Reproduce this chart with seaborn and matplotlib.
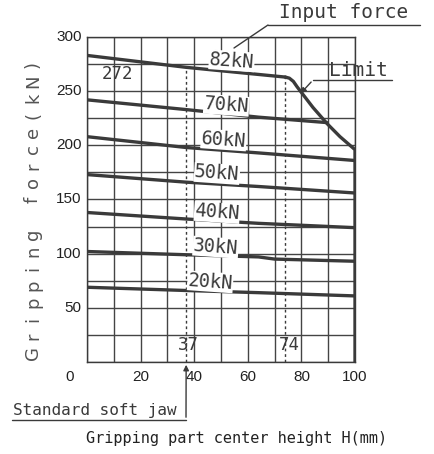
import pandas as pd
import seaborn as sns
import matplotlib.pyplot as plt

# input force curves (H in mm, gripping force in kN)
h_82 = [0, 37, 74]
f_82 = [283, 272, 263]
h_70 = [0, 37, 64, 89.5]
f_70 = [242, 233, 226, 221]
h_60 = [0, 37, 64, 100]
f_60 = [208, 198, 193, 186]
h_50 = [0, 37, 64, 100]
f_50 = [173, 166, 162, 156]
h_40 = [0, 37, 64, 100]
f_40 = [138, 132, 128, 124]
h_30 = [0, 37, 64, 70, 100]
f_30 = [102, 99, 97, 95, 93]
h_20 = [0, 37, 64, 100]
f_20 = [69, 66, 64, 61]
h_limit = [74, 75.5, 77, 78.4, 84.3, 89.6, 94.4, 100, 100]
f_limit = [263, 262, 259, 254, 235, 220, 208, 196, 0]

series_names = ['82kN', '70kN', '60kN', '50kN', '40kN', '30kN', '20kN', 'Limit']
label_x = [54, 52, 51, 48.5, 48.5, 48, 46]
label_y = [278, 237, 205, 174, 138, 106, 74]
x_ticks = [20, 40, 60, 80, 100]
y_ticks = [50, 100, 150, 200, 250, 300]
y_title = 'Gripping force(kN)'

ink = '#3a3a3a'


def main():
    rows = []
    pairs = [(h_82, f_82), (h_70, f_70), (h_60, f_60), (h_50, f_50),
             (h_40, f_40), (h_30, f_30), (h_20, f_20), (h_limit, f_limit)]
    for name, (hs, fs) in zip(series_names, pairs):
        for h, f in zip(hs, fs):
            rows.append({'H': h, 'F': f, 'curve': name})
    df = pd.DataFrame(rows)

    sns.set_style('white')
    fig = plt.figure(figsize=(4.34, 4.54), dpi=100)
    ax = fig.add_axes([87 / 434, 1 - 362 / 454, 268 / 434, 325 / 454])

    sns.lineplot(data=df, x='H', y='F', hue='curve', units='curve',
                 estimator=None, sort=False, ax=ax, legend=False,
                 palette=[ink] * len(series_names), linewidth=2.4)
    ax.set_xlabel('')
    ax.set_ylabel('')

    ax.set_xlim(0, 100)
    ax.set_ylim(0, 300)
    ax.set_xticks(range(0, 101, 10))
    ax.set_yticks(range(0, 301, 25))
    ax.grid(True, color='#444444', linewidth=1.0)
    ax.set_axisbelow(True)
    ax.tick_params(length=0, labelleft=False, labelbottom=False)
    for s in ax.spines.values():
        s.set_color(ink)
        s.set_linewidth(1.0)

    # tick labels as text so the odd gridlines stay unlabelled
    num = dict(fontsize=11, color='#222222', family='Liberation Sans')
    for v in y_ticks:
        ax.text(-2, v, str(v), ha='right', va='center', **num)
    for v in x_ticks:
        ax.text(v, -14, str(v), ha='center', va='center', **num)
    ax.text(-6.5, -14, '0', ha='center', va='center', **num)

    # standard jaw and 74 mm markers
    ax.vlines([37, 74], 0, [272, 263], color=ink, linestyle=(0, (2, 2)),
              linewidth=1.0)
    mono = 'DejaVu Sans Mono'
    ax.text(11.5, 266, '272', ha='center', va='center', fontsize=12.5,
            family=mono, color=ink)
    ax.text(37.7, 15.5, '37', ha='center', va='center', fontsize=12.5,
            family=mono, color=ink)
    ax.text(75.5, 15.5, '74', ha='center', va='center', fontsize=12.5,
            family=mono, color=ink)

    for name, lx, ly in zip(series_names[:-1], label_x, label_y):
        ax.text(lx, ly, name, ha='center', va='center', fontsize=13.5,
                family=mono, color=ink, rotation=-4,
                bbox=dict(facecolor='white', edgecolor='none', pad=0.3))

    # callouts outside the plot, in figure pixels
    def px(x, y):
        return (x / 434, 1 - y / 454)

    fig.text(*px(344, 13), 'Input force', ha='center', va='center',
             fontsize=14, family=mono, color=ink)
    fig.add_artist(plt.Line2D([268 / 434, 420 / 434], [1 - 25 / 454] * 2,
                              color=ink, lw=1.0))
    fig.add_artist(plt.Line2D([268 / 434, 234 / 434],
                              [1 - 25 / 454, 1 - 48 / 454], color=ink, lw=1.0))

    fig.text(*px(358, 70), 'Limit', ha='center', va='center',
             fontsize=14, family=mono, color=ink)
    fig.add_artist(plt.Line2D([313 / 434, 392 / 434], [1 - 80 / 454] * 2,
                              color=ink, lw=1.0))
    ax.annotate('', xy=(79, 246), xytext=(313 / 434, 1 - 80 / 454),
                textcoords='figure fraction',
                arrowprops=dict(arrowstyle='-|>', color=ink, lw=1.0,
                                mutation_scale=8))

    fig.text(*px(95, 410), 'Standard soft jaw', ha='center', va='center',
             fontsize=11.5, family=mono, color=ink)
    fig.add_artist(plt.Line2D([12 / 434, 186 / 434], [1 - 420 / 454] * 2,
                              color=ink, lw=1.0))
    ax.annotate('', xy=(37, 0), xytext=(186 / 434, 1 - 420 / 454),
                textcoords='figure fraction',
                arrowprops=dict(arrowstyle='-|>', color=ink, lw=1.0,
                                mutation_scale=8))

    fig.text(*px(237, 438), 'Gripping part center height H(mm)',
             ha='center', va='center', fontsize=11, family=mono,
             color='#222222')

    # widely spaced vertical title, one glyph per slot like the scan
    for i, ch in enumerate(y_title):
        fig.text(*px(33, 353 - 17 * i), ch, ha='center', va='center',
                 fontsize=13, rotation=90, color='#555555',
                 family='DejaVu Sans')

    fig.savefig('out.png', dpi=100)


if __name__ == "__main__":
    main()
